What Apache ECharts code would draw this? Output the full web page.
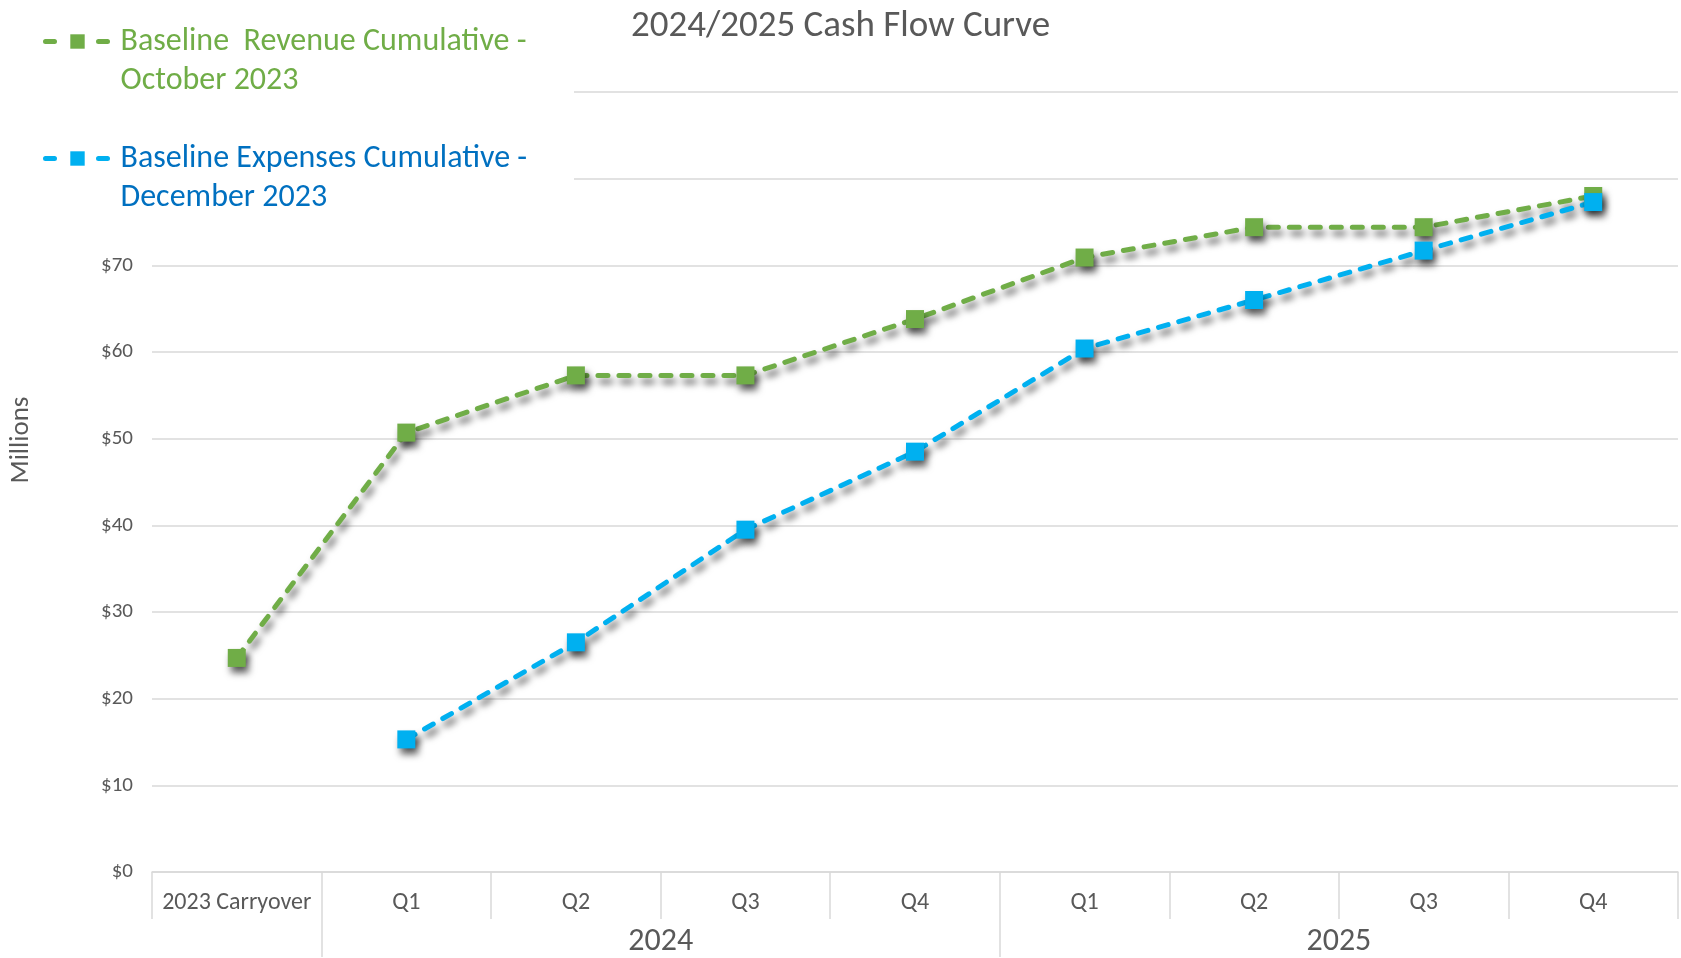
<!DOCTYPE html>
<html><head><meta charset="utf-8">
<script src="https://cdn.jsdelivr.net/npm/echarts@6/dist/echarts.min.js"></script>
<style>html,body{margin:0;padding:0;background:#fff}#c{width:1681px;height:958px}</style>
</head><body><div id="c"></div>
<script>
const chartTitle = '2024/2025 Cash Flow Curve';
const yAxisTitle = 'Millions';
const categories = ['2023 Carryover', 'Q1', 'Q2', 'Q3', 'Q4', 'Q1', 'Q2', 'Q3', 'Q4'];
const yearLabels = ['2024', '2025'];
const quartersPerYear = 4;
const yMin = 0, yMax = 90, yStep = 10;
const revenueName = 'Baseline  Revenue Cumulative - October 2023';
const expensesName = 'Baseline Expenses Cumulative - December 2023';
const revenue = [24.7, 50.7, 57.3, 57.3, 63.8, 70.9, 74.4, 74.4, 78.0];
const expenses = [null, 15.3, 26.5, 39.5, 48.5, 60.4, 66.0, 71.7, 77.3];

const FONT = 'Carlito, Lato, sans-serif';
const GREY = '#595959';
const GRID_C = '#d9d9d9';
const GREEN = '#70AD47', BLUE = '#00B0F0', BLUE_TXT = '#0070C0';

const lead = categories.length - yearLabels.length * quartersPerYear;
const yearBounds = yearLabels.map((_, i) => lead + i * quartersPerYear);
const yearCenters = yearLabels.map((_, i) => lead + i * quartersPerYear + quartersPerYear / 2);

const shadow = {shadowColor: 'rgba(0,0,0,0.6)', shadowBlur: 7, shadowOffsetX: 3, shadowOffsetY: 6};
function mkSeries(name, data, color) {
  return {
    type: 'line', name, data, xAxisIndex: 0, yAxisIndex: 0,
    symbol: 'rect', symbolSize: 18, connectNulls: false,
    lineStyle: Object.assign({color, width: 5, type: [10, 11], cap: 'round'}, shadow),
    itemStyle: Object.assign({color}, shadow),
    emphasis: {disabled: true}
  };
}

const chart = echarts.init(document.getElementById('c'));
chart.setOption({
  animation: false,
  backgroundColor: '#fff',
  title: {text: chartTitle, left: 'center', top: 3,
    textStyle: {fontFamily: FONT, fontSize: 37, fontWeight: 'normal', color: GREY}},
  legend: {
    orient: 'vertical', left: 43, top: -17, padding: 0, itemGap: 0,
    itemWidth: 64, itemHeight: 18,
    formatter: n => '\n' + n.replace(' - ', ' -\n'),
    lineStyle: {width: 5, type: [9, 44], cap: 'round', shadowBlur: 0, shadowOffsetX: 0, shadowOffsetY: 0, shadowColor: 'transparent'},
    itemStyle: {shadowBlur: 0, shadowOffsetX: 0, shadowOffsetY: 0, shadowColor: 'transparent'},
    textStyle: {fontFamily: FONT, fontSize: 32, lineHeight: 39, padding: [0, 0, 0, 6]},
    data: [
      {name: revenueName, textStyle: {color: GREEN}},
      {name: expensesName, textStyle: {color: BLUE_TXT}}
    ]
  },
  graphic: [
    {type: 'rect', z: 3, shape: {x: 0, y: 0, width: 574, height: 225}, style: {fill: '#fff'}},
    {type: 'text', z: 3, x: 21, y: 440, rotation: Math.PI / 2,
      style: {text: yAxisTitle, fontFamily: FONT, fontSize: 27, fill: GREY, align: 'center', verticalAlign: 'middle'}}
  ],
  grid: {left: 152, right: 3, top: 92, bottom: 85, containLabel: false},
  xAxis: [
    {type: 'category', data: categories, boundaryGap: true, position: 'bottom',
      axisLine: {show: true, lineStyle: {color: GRID_C, width: 1.5}},
      axisTick: {show: true, interval: 0, length: 47, lineStyle: {color: GRID_C, width: 1.5}},
      axisLabel: {interval: 0, margin: 19, fontFamily: FONT, fontSize: 24, color: GREY},
      splitLine: {show: false}},
    {type: 'value', min: 0, max: categories.length, position: 'bottom',
      axisLine: {show: false},
      axisTick: {show: true, customValues: yearBounds, length: 85, lineStyle: {color: GRID_C, width: 1.5}},
      axisLabel: {customValues: yearCenters, margin: 54,
        formatter: v => yearLabels[yearCenters.indexOf(v)] || '',
        fontFamily: FONT, fontSize: 32, color: GREY},
      splitLine: {show: false}}
  ],
  yAxis: {type: 'value', min: yMin, max: yMax, interval: yStep,
    axisLine: {show: false}, axisTick: {show: false},
    axisLabel: {formatter: v => '$' + v, margin: 19, fontFamily: FONT, fontSize: 21, color: GREY},
    splitLine: {lineStyle: {color: GRID_C, width: 1.5}}},
  series: [mkSeries(revenueName, revenue, GREEN), mkSeries(expensesName, expenses, BLUE)]
});
</script></body></html>
